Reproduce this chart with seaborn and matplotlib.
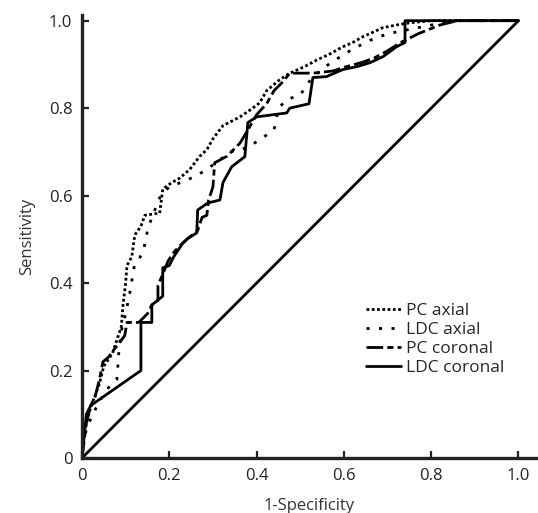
import numpy as np
import pandas as pd
import matplotlib
matplotlib.use('Agg')
import matplotlib.pyplot as plt
import seaborn as sns

# ROC points (1-specificity, sensitivity)
pc_axial_x = [0, 0.005, 0.015, 0.025, 0.04, 0.05, 0.07, 0.09, 0.094, 0.1, 0.103, 0.114, 0.121, 0.135, 0.144,
              0.178, 0.185, 0.206, 0.224, 0.247, 0.27, 0.286, 0.3, 0.323, 0.362, 0.384, 0.407, 0.423, 0.453,
              0.476, 0.51, 0.538, 0.57, 0.597, 0.62, 0.643, 0.67, 0.689, 0.72, 0.75, 0.8, 1.0]
pc_axial_y = [0, 0.06, 0.1, 0.13, 0.17, 0.21, 0.24, 0.30, 0.35, 0.40, 0.44, 0.46, 0.51, 0.53, 0.555,
              0.56, 0.615, 0.63, 0.64, 0.66, 0.69, 0.705, 0.73, 0.76, 0.78, 0.795, 0.812, 0.84, 0.865,
              0.88, 0.895, 0.91, 0.925, 0.94, 0.95, 0.963, 0.975, 0.984, 0.99, 0.995, 1.0, 1.0]

ldc_axial_x = [0, 0.005, 0.02, 0.04, 0.06, 0.08, 0.085, 0.09, 0.1, 0.11, 0.12, 0.14, 0.15, 0.16, 0.18, 0.2,
               0.24, 0.27, 0.3, 0.34, 0.38, 0.41, 0.44, 0.45, 0.47, 0.5, 0.52, 0.55, 0.58, 0.62, 0.66, 0.7,
               0.75, 0.8, 0.86, 1.0]
ldc_axial_y = [0, 0.05, 0.09, 0.13, 0.16, 0.18, 0.25, 0.29, 0.33, 0.38, 0.44, 0.47, 0.52, 0.55, 0.60, 0.62,
               0.635, 0.65, 0.67, 0.70, 0.71, 0.73, 0.75, 0.80, 0.82, 0.83, 0.86, 0.89, 0.91, 0.935, 0.955, 0.97,
               0.98, 0.99, 1.0, 1.0]

pc_cor_x = [0, 0.005, 0.01, 0.02, 0.03, 0.04, 0.048, 0.06, 0.071, 0.087, 0.098, 0.103, 0.13, 0.15, 0.16,
            0.174, 0.174, 0.185, 0.197, 0.21, 0.224, 0.24, 0.265, 0.275, 0.286, 0.29, 0.3, 0.304, 0.332,
            0.362, 0.38, 0.40, 0.423, 0.44, 0.46, 0.476, 0.529, 0.575, 0.606, 0.643, 0.67, 0.698, 0.73,
            0.77, 0.82, 0.86, 1.0]
pc_cor_y = [0, 0.04, 0.08, 0.12, 0.14, 0.18, 0.22, 0.23, 0.245, 0.265, 0.28, 0.31, 0.31, 0.33, 0.35,
            0.36, 0.395, 0.42, 0.45, 0.47, 0.485, 0.50, 0.52, 0.55, 0.555, 0.59, 0.62, 0.675, 0.69,
            0.72, 0.75, 0.785, 0.81, 0.84, 0.86, 0.88, 0.88, 0.885, 0.895, 0.905, 0.915, 0.93, 0.95,
            0.97, 0.99, 1.0, 1.0]

ldc_cor_x = [0, 0.005, 0.01, 0.02, 0.135, 0.135, 0.16, 0.16, 0.185, 0.185, 0.2, 0.21, 0.23, 0.24, 0.263,
             0.265, 0.288, 0.316, 0.323, 0.343, 0.373, 0.38, 0.40, 0.469, 0.476, 0.52, 0.529, 0.56, 0.597,
             0.63, 0.66, 0.69, 0.72, 0.74, 0.74, 1.0]
ldc_cor_y = [0, 0.05, 0.10, 0.12, 0.20, 0.31, 0.31, 0.35, 0.37, 0.435, 0.44, 0.46, 0.49, 0.50, 0.515,
             0.567, 0.583, 0.59, 0.63, 0.666, 0.689, 0.767, 0.78, 0.789, 0.80, 0.81, 0.87, 0.872, 0.888,
             0.895, 0.904, 0.918, 0.94, 0.95, 1.0, 1.0]

ref_x = [0, 1]
ref_y = [0, 1]

ticks = [0, 0.2, 0.4, 0.6, 0.8, 1.0]
tick_labels = ['0', '0.2', '0.4', '0.6', '0.8', '1.0']

sns.set_style('ticks')
plt.rcParams['font.family'] = ['Open Sans', 'DejaVu Sans']

fig = plt.figure(figsize=(5.38, 5.13), dpi=100)
ax = fig.add_axes([0.1524, 0.1072, 0.8438, 0.8636])

curves = [
    (pc_axial_x, pc_axial_y, 'PC axial', (0, (1, 0.9))),
    (ldc_axial_x, ldc_axial_y, 'LDC axial', (0, (1.1, 3.4))),
    (pc_cor_x, pc_cor_y, 'PC coronal', (0, (6, 1.5, 2.2, 1.5))),
    (ldc_cor_x, ldc_cor_y, 'LDC coronal', '-'),
]
for xs, ys, name, ls in curves:
    sns.lineplot(x=xs, y=ys, ax=ax, sort=False, estimator=None, color='black',
                 linewidth=2, linestyle=ls, label=name)

sns.lineplot(x=ref_x, y=ref_y, ax=ax, sort=False, estimator=None, color='black', linewidth=2)

ax.set_xlim(0, 1.04)
ax.set_ylim(0, 1.013)
ax.set_xticks(ticks)
ax.set_xticklabels(tick_labels)
ax.set_yticks(ticks)
ax.set_yticklabels(tick_labels)
ax.tick_params(direction='in', length=5, width=1.6, labelsize=12, colors='#222222', pad=7)
for s in ['top', 'right']:
    ax.spines[s].set_visible(False)
for s in ['left', 'bottom']:
    ax.spines[s].set_linewidth(2.4)
    ax.spines[s].set_color('#222222')

ax.set_xlabel('1-Specificity', fontsize=12, color='#333333', labelpad=10)
ax.set_ylabel('Sensitivity', fontsize=12, color='#333333', labelpad=10)

leg = ax.legend(loc='upper left', bbox_to_anchor=(0.61, 0.365), frameon=False, fontsize=12.5,
                handlelength=2.0, handletextpad=0.3, labelspacing=0.15, borderaxespad=0)

fig.savefig('out.png', dpi=100)
